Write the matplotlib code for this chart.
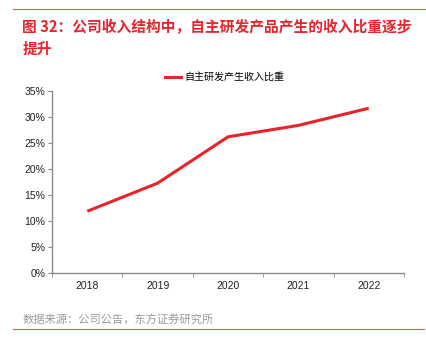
import matplotlib.pyplot as plt
from matplotlib.lines import Line2D
from matplotlib.ticker import FuncFormatter

plt.rcParams['font.family'] = ['Liberation Sans', 'Noto Sans CJK SC', 'DejaVu Sans']

years = ['2018', '2019', '2020', '2021', '2022']
share = [11.9, 17.3, 26.2, 28.4, 31.7]   # 自主研发产生收入比重, %
yticks = [0, 5, 10, 15, 20, 25, 30, 35]

title = '图 32：公司收入结构中，自主研发产品产生的收入比重逐步\n提升'
source = '数据来源：公司公告，东方证券研究所'
series_name = '自主研发产生收入比重'

red = '#E8242A'
axis_gray = '#8C8C8C'
cjk = ['Noto Sans CJK SC', 'DejaVu Sans']

fig = plt.figure(figsize=(4.27, 3.41), dpi=100)
ax = fig.add_axes([0.122, 0.199, 0.824, 0.534])

x = list(range(len(years)))
ax.plot(x, share, color=red, linewidth=2.2, solid_capstyle='butt')

ax.set_xlim(-0.5, len(years) - 0.5)
ax.set_ylim(0, 35)
ax.set_yticks(yticks)
ax.yaxis.set_major_formatter(FuncFormatter(lambda v, _: f'{v:.0f}%'))
ax.set_xticks(x)
ax.set_xticklabels(years)
# category separators on the x axis
ax.set_xticks([i - 0.5 for i in range(len(years) + 1)], minor=True)
ax.tick_params(axis='x', which='major', length=0, pad=6, labelsize=7.5, colors='#222222')
ax.tick_params(axis='x', which='minor', length=3, color=axis_gray, direction='out')
ax.tick_params(axis='y', length=3, color=axis_gray, labelsize=7.5, colors='#222222', pad=2)

for side in ('top', 'right'):
    ax.spines[side].set_visible(False)
for side in ('left', 'bottom'):
    ax.spines[side].set_color(axis_gray)
    ax.spines[side].set_linewidth(1.0)

handle = Line2D([0], [0], color=red, linewidth=2.2)
fig.legend([handle], [series_name], loc='center left', bbox_to_anchor=(0.365, 0.774),
           frameon=False, handlelength=1.6, handletextpad=0.4,
           prop={'family': cjk, 'size': 7.2})

# header and footer rules
fig.add_artist(Line2D([0.03, 1.0], [0.974, 0.974], color=red, linewidth=0.8, alpha=0.8))
fig.add_artist(Line2D([0.03, 0.993], [0.035, 0.035], color=red, linewidth=0.8, alpha=0.8))

fig.text(0.052, 0.945, title, color=red, fontsize=10.6, fontweight='bold',
         family=cjk, va='top', ha='left', linespacing=1.5)
fig.text(0.052, 0.062, source, color='#9A9A9A', fontsize=8.1, family=cjk,
         va='center', ha='left')

fig.savefig('out.png', dpi=100)
